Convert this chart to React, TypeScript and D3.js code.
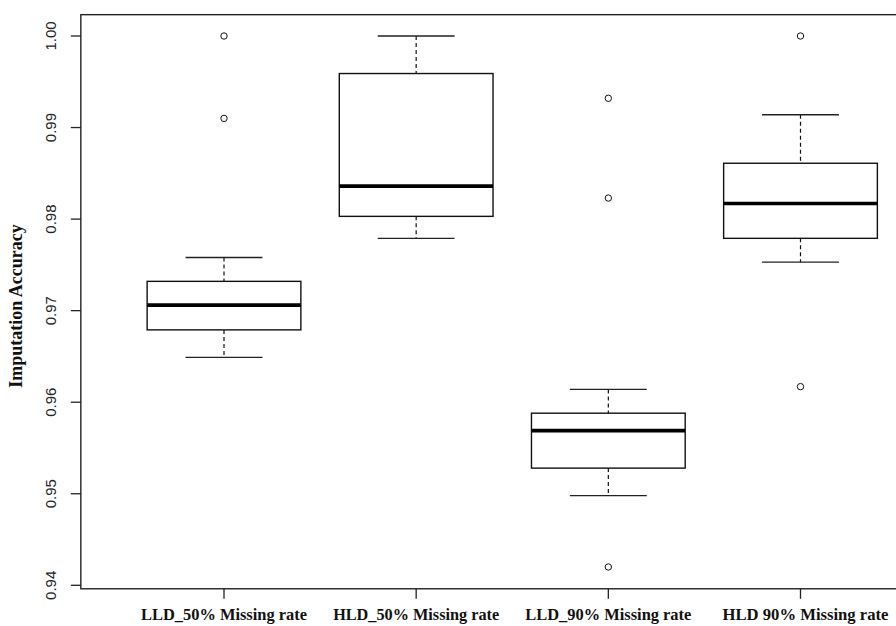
import React from "react";
import * as d3 from "d3";

const categories = [
  "LLD_50% Missing rate",
  "HLD_50% Missing rate",
  "LLD_90% Missing rate",
  "HLD 90% Missing rate",
];
const lowerWhisker = [0.9649, 0.9779, 0.9498, 0.9753];
const q1 = [0.9679, 0.9803, 0.9528, 0.9779];
const medians = [0.9706, 0.9836, 0.9569, 0.9817];
const q3 = [0.9732, 0.9959, 0.9588, 0.9861];
const upperWhisker = [0.9758, 1.0, 0.9614, 0.9914];
const outliers = [[1.0, 0.991], [], [0.9932, 0.9823, 0.942], [1.0, 0.9617]];
const yTicks = [0.94, 0.95, 0.96, 0.97, 0.98, 0.99, 1.0];

const W = 896;
const H = 626;

export default function App() {
  // user coords: boxes at 1..4, plot frame runs a bit past both ends
  const x = d3.scaleLinear().domain([1, 4]).range([224, 800.5]);
  const y = d3.scaleLinear().domain([0.94, 1.0]).range([585.3, 36]);
  const xLim = [0.255, 4.745];
  const yLim = [0.93962, 1.00233];

  const unit = x(2) - x(1);
  const boxW = unit * 0.8;
  const stapleW = boxW * 0.5;

  const left = x(xLim[0]);
  const right = x(xLim[1]);
  const top = y(yLim[1]);
  const bottom = y(yLim[0]);

  return (
    <svg
      width={W}
      height={H}
      style={{ position: "absolute", left: 0, top: 0, background: "#fff" }}
    >
      {/* boxes */}
      {categories.map((c, i) => {
        const cx = x(i + 1);
        return (
          <g key={c}>
            <line
              x1={cx} x2={cx} y1={y(upperWhisker[i])} y2={y(q3[i])}
              stroke="#111" strokeWidth={1.2} strokeDasharray="4,3"
            />
            <line
              x1={cx} x2={cx} y1={y(q1[i])} y2={y(lowerWhisker[i])}
              stroke="#111" strokeWidth={1.2} strokeDasharray="4,3"
            />
            <line
              x1={cx - stapleW / 2} x2={cx + stapleW / 2}
              y1={y(upperWhisker[i])} y2={y(upperWhisker[i])}
              stroke="#222" strokeWidth={1.4}
            />
            <line
              x1={cx - stapleW / 2} x2={cx + stapleW / 2}
              y1={y(lowerWhisker[i])} y2={y(lowerWhisker[i])}
              stroke="#222" strokeWidth={1.4}
            />
            <rect
              x={cx - boxW / 2} y={y(q3[i])}
              width={boxW} height={y(q1[i]) - y(q3[i])}
              fill="#fff" stroke="#111" strokeWidth={1.4}
            />
            <line
              x1={cx - boxW / 2} x2={cx + boxW / 2}
              y1={y(medians[i])} y2={y(medians[i])}
              stroke="#000" strokeWidth={3.6}
            />
            {outliers[i].map((v, j) => (
              <circle
                key={j} cx={cx} cy={y(v)} r={3.2}
                fill="none" stroke="#111" strokeWidth={1}
              />
            ))}
          </g>
        );
      })}

      {/* frame */}
      <rect
        x={left} y={top} width={right - left} height={bottom - top}
        fill="none" stroke="#222" strokeWidth={1.4}
      />

      {/* y axis */}
      {yTicks.map((t) => (
        <g key={t}>
          <line x1={left - 10} x2={left} y1={y(t)} y2={y(t)} stroke="#222" strokeWidth={1.3} />
          <text
            transform={`translate(56,${y(t)}) rotate(-90)`}
            textAnchor="middle"
            fontFamily="Liberation Sans, Arial, sans-serif"
            fontSize={15}
            fill="#222"
          >
            {t.toFixed(2)}
          </text>
        </g>
      ))}
      <text
        transform={`translate(22,306) rotate(-90)`}
        textAnchor="middle"
        fontFamily="Liberation Serif, Times New Roman, serif"
        fontWeight="bold"
        fontSize={18}
        fill="#111"
      >
        Imputation Accuracy
      </text>

      {/* x axis */}
      {categories.map((c, i) => (
        <g key={c}>
          <line
            x1={x(i + 1)} x2={x(i + 1)} y1={bottom} y2={bottom + 10}
            stroke="#222" strokeWidth={1.3}
          />
          <text
            x={x(i + 1) + (i === 3 ? 5 : 0)} y={620}
            textAnchor="middle"
            fontFamily="Liberation Serif, Times New Roman, serif"
            fontWeight="bold"
            fontSize={17}
            textLength={166}
            lengthAdjust="spacingAndGlyphs"
            fill="#111"
          >
            {c}
          </text>
        </g>
      ))}
    </svg>
  );
}
